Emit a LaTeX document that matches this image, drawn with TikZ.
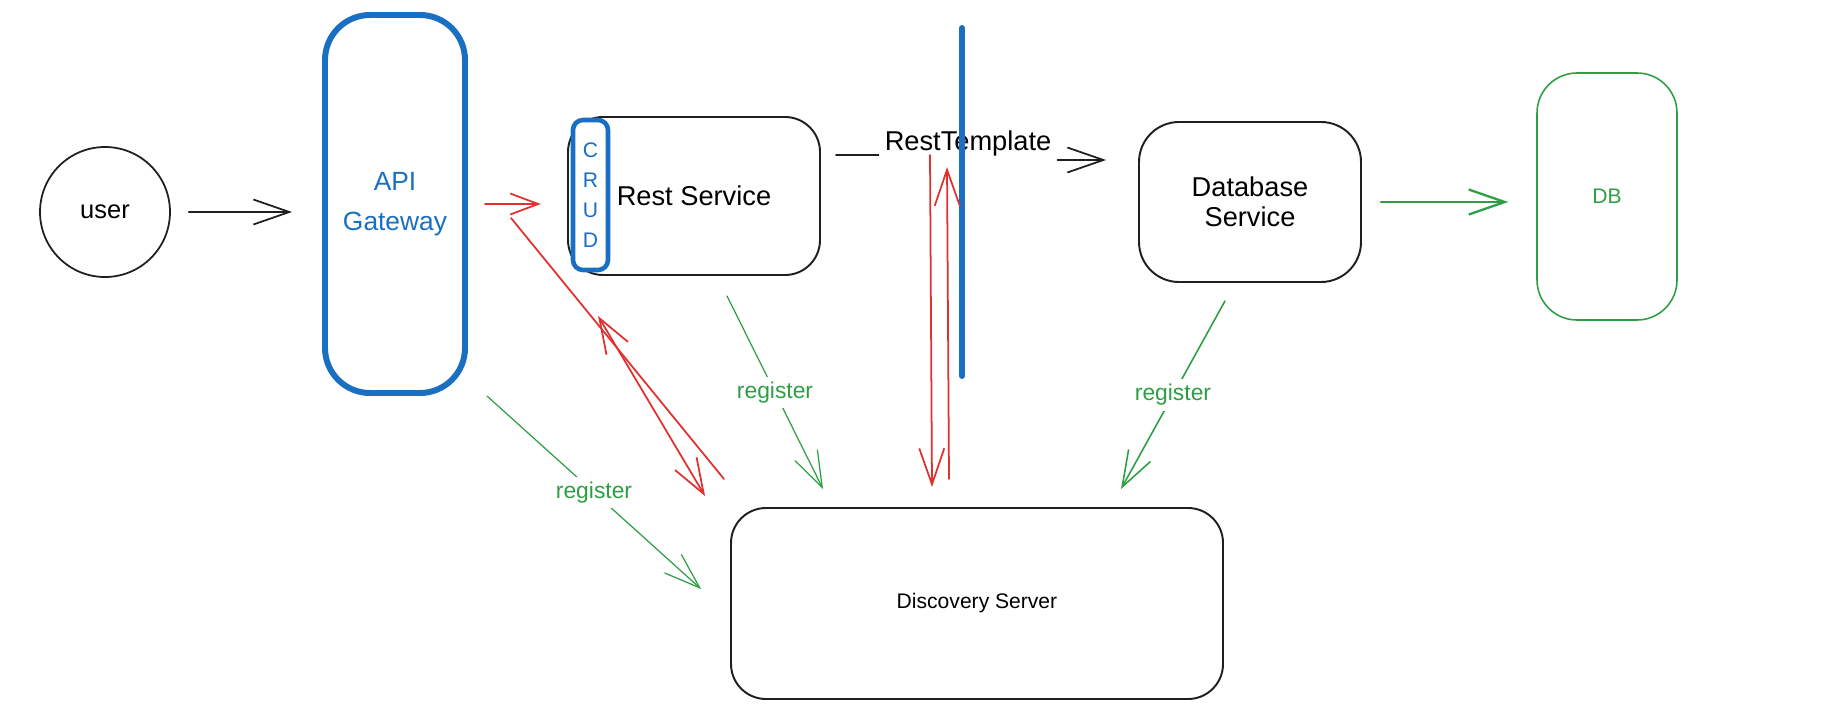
\documentclass[tikz,border=0pt]{standalone}
\usepackage{fontspec}
\setmainfont{Liberation Sans}
\usetikzlibrary{arrows.meta}
\tikzstyle{box} = [rectangle,rounded corners=.7cm,draw=blackink,line width=1.1pt,align=center,font=\fontsize{15.5}{17}\selectfont]
\tikzstyle{bluebox} = [rectangle,rounded corners=.9cm,draw=blueink,text=blueink,line width=3.4pt,align=center,font=\fontsize{15}{23}\selectfont]
\tikzstyle{link} = [line width=1pt,line cap=round,line join=round,-{Straight Barb[length=.72cm,width=.5cm]}]
\tikzstyle{tag} = [fill=white,inner sep=3pt,font=\fontsize{13}{15}\selectfont]
\definecolor{blackink}{rgb}{0.12, 0.12, 0.12}
\definecolor{blueink}{rgb}{0.1, 0.44, 0.76}
\definecolor{redink}{rgb}{0.88, 0.19, 0.19}
\definecolor{greenink}{rgb}{0.18, 0.62, 0.27}
\begin{document}
\begin{tikzpicture}
		\useasboundingbox (0,0) rectangle (36.7,-14.32);
		\node [circle,draw=blackink,line width=1pt,minimum size=2.6cm,font=\fontsize{14.5}{16}\selectfont](user) at (2.1,-4.24){user};
		\node [bluebox,right of=user,xshift=4.8cm,yshift=.16cm,minimum width=2.8cm,minimum height=7.56cm](gateway){API\\Gateway};
		\node [box,right of=gateway,xshift=4.98cm,yshift=.16cm,minimum width=5.04cm,minimum height=3.16cm](rest){Rest Service};
		\node [bluebox,left of=rest,xshift=-1.07cm,yshift=.02cm,minimum width=.7cm,minimum height=3cm,rounded corners=.2cm,line width=2.6pt,fill=white,inner sep=0pt,font=\fontsize{12}{17}\selectfont](crud){C\\R\\U\\D};
		\node [box,right of=rest,xshift=10.12cm,yshift=-.12cm,minimum width=4.44cm,minimum height=3.2cm,rounded corners=.8cm](database){Database\\Service};
		\node [box,draw=greenink,right of=database,xshift=6.14cm,yshift=.11cm,minimum width=2.8cm,minimum height=4.94cm,rounded corners=.8cm,line width=.9pt,font=\fontsize{12}{14}\selectfont](db){\color{greenink}{DB}};
		\node [box,below of=rest,xshift=5.66cm,yshift=-7.15cm,minimum width=9.84cm,minimum height=3.82cm,font=\fontsize{12}{14}\selectfont](discovery){Discovery Server};
		\node [above of=rest,xshift=5.48cm,yshift=.06cm,font=\fontsize{15.5}{17}\selectfont](resttemplate){RestTemplate};
		
		\coordinate (bartop) at (19.24,-.56);
		\coordinate (barbot) at (19.24,-7.52);
		\draw[blueink,line width=3.4pt,line cap=round](bartop)--(barbot);
		
		\coordinate (rt1) at ([xshift=.3cm,yshift=.82cm]rest.east);
		\coordinate (rt2) at ([xshift=-.64cm,yshift=.84cm]database.west);
		\coordinate (rt3) at ([xshift=-.64cm,yshift=-2.54cm]bartop);
		\coordinate (rt4) at ([xshift=-.3cm,yshift=-2.78cm]bartop);
		\coordinate (gw1) at ([xshift=.86cm,yshift=-.28cm]gateway.east);
		\coordinate (gw2) at ([xshift=.38cm]gateway.south east);
		\coordinate (rs1) at ([xshift=.62cm,yshift=-.8cm]rest.south west);
		\coordinate (rs2) at ([xshift=.66cm,yshift=-.4cm]rest.south);
		\coordinate (db1) at ([xshift=-.5cm,yshift=-.36cm]database.south);
		\coordinate (ds1) at ([xshift=-.12cm,yshift=.56cm]discovery.north west);
		\coordinate (ds2) at ([xshift=-.5cm,yshift=.22cm]discovery.north west);
		\coordinate (ds3) at ([xshift=-.9cm,yshift=.4cm]discovery.north);
		\coordinate (ds4) at ([xshift=-.56cm,yshift=.56cm]discovery.north);
		\coordinate (ds5) at ([xshift=-.58cm,yshift=.29cm]discovery.west);
		\coordinate (ds6) at ([xshift=1.86cm,yshift=.36cm]discovery.north west);
		\coordinate (ds7) at ([xshift=-2.06cm,yshift=.36cm]discovery.north east);
		
		\draw[link,blackink,shorten <=.36cm,shorten >=.6cm](user)--(gateway.west |- user);
		\draw[link,redink,shorten <=.34cm,shorten >=.6cm,-{Straight Barb[length=.56cm,width=.42cm]}](gateway.east)--(crud.west |- gateway.east);
		\draw[blackink,line width=1pt,line cap=round](rt1)--(rt1 -| resttemplate.west);
		\draw[link,blackink](resttemplate.east |- rt2)--(rt2);
		\draw[link,greenink,line width=1.3pt,shorten <=.38cm,shorten >=.56cm](database.east)--(db.west |- database.east);
		
		\draw[redink,line width=1pt,line cap=round](gw1)--(ds1);
		\draw[link,redink,{Straight Barb[length=.7cm,width=.5cm]}-{Straight Barb[length=.7cm,width=.5cm]}](rs1)--(ds2);
		\draw[link,redink](rt3)--(ds3);
		\draw[link,redink](ds4)--(rt4);
		
		\draw[link,greenink,line width=.7pt](gw2)--node[tag]{\color{greenink}{register}}(ds5);
		\draw[link,greenink,line width=.7pt](rs2)--node[tag]{\color{greenink}{register}}(ds6);
		\draw[link,greenink,line width=.9pt](db1)--node[tag]{\color{greenink}{register}}(ds7);
\end{tikzpicture}
\end{document}
